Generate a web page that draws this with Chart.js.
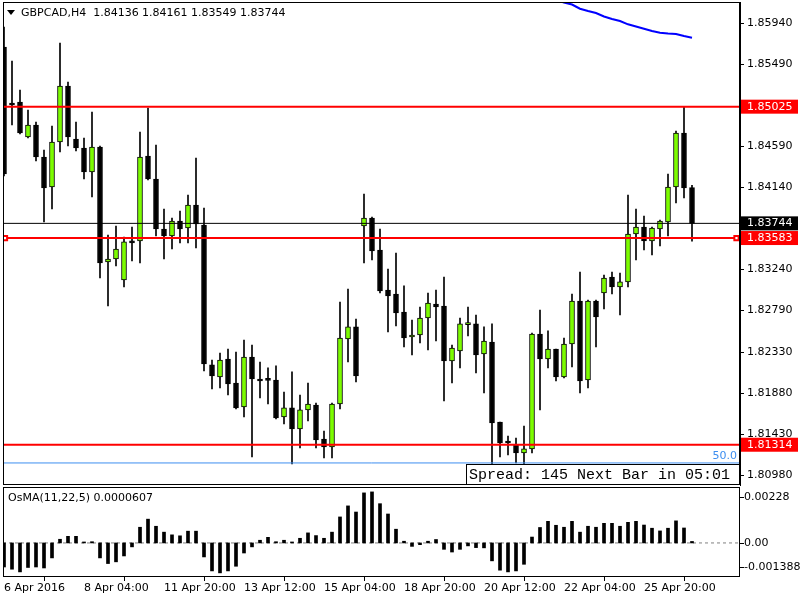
<!DOCTYPE html>
<html>
<head>
<meta charset="utf-8">
<script src="https://cdn.jsdelivr.net/npm/chart.js@4.4.0/dist/chart.umd.min.js"></script>
<style>
  html, body { margin: 0; padding: 0; background: #fff; overflow: hidden; }
  #wrap { position: relative; width: 800px; height: 600px; }
  canvas { position: absolute; left: 0; }
  #priceChart { top: 0; }
  #osmaChart { top: 485px; }
</style>
</head>
<body>
<div id="wrap">
  <canvas id="priceChart" width="800" height="487"></canvas>
  <canvas id="osmaChart" width="800" height="115"></canvas>
</div>
<script>
// GBPCAD H4 bars, left to right
var tickLabels = ['6 Apr 2016', '8 Apr 04:00', '11 Apr 20:00', '13 Apr 12:00', '15 Apr 04:00',
                  '18 Apr 20:00', '20 Apr 12:00', '22 Apr 04:00', '25 Apr 20:00'];
var tickIndex = [0, 10, 20, 30, 40, 50, 60, 70, 80];

var opens = [1.85680, 1.85065, 1.85076, 1.84692, 1.84824, 1.84473, 1.84143, 1.84637, 1.85252, 1.84670,
             1.84571, 1.84308, 1.84582, 1.83320, 1.83353, 1.83122, 1.83551, 1.83551, 1.84483, 1.84231,
             1.83682, 1.83605, 1.83770, 1.83693, 1.83946, 1.83726, 1.82190, 1.82058, 1.82255, 1.81992,
             1.81729, 1.82277, 1.82036, 1.82036, 1.82025, 1.81619, 1.81718, 1.81487, 1.81696, 1.81750,
             1.81377, 1.81289, 1.81761, 1.82475, 1.82607, 1.83715, 1.83803, 1.83452, 1.83013, 1.82969,
             1.82771, 1.82497, 1.82519, 1.82705, 1.82859, 1.82837, 1.82233, 1.82343, 1.82633, 1.82640,
             1.82310, 1.82442, 1.81564, 1.81344, 1.81311, 1.81224, 1.81268, 1.82530, 1.82255, 1.82365,
             1.82058, 1.82420, 1.82892, 1.82025, 1.82892, 1.82980, 1.83155, 1.83046, 1.83101, 1.83627,
             1.83704, 1.83551, 1.83682, 1.83759, 1.84143, 1.84736, 1.84136];
var highs = [1.85899, 1.85526, 1.85208, 1.84988, 1.84857, 1.84549, 1.84813, 1.85724, 1.85296, 1.84857,
             1.84681, 1.84966, 1.84593, 1.83616, 1.83715, 1.83594, 1.83704, 1.84747, 1.85010, 1.84604,
             1.83902, 1.83803, 1.83880, 1.84055, 1.84462, 1.83913, 1.82244, 1.82321, 1.82365, 1.82332,
             1.82464, 1.82409, 1.82222, 1.82157, 1.82179, 1.81893, 1.82113, 1.81860, 1.81992, 1.81772,
             1.81465, 1.81772, 1.82881, 1.83024, 1.82694, 1.84066, 1.83814, 1.83682, 1.83243, 1.83419,
             1.83057, 1.82683, 1.82826, 1.82980, 1.83013, 1.83155, 1.82409, 1.82705, 1.82826, 1.82738,
             1.82607, 1.82640, 1.81564, 1.81410, 1.81388, 1.81520, 1.82541, 1.82793, 1.82563, 1.82365,
             1.82486, 1.82969, 1.83210, 1.82903, 1.82903, 1.83177, 1.83210, 1.83199, 1.84055, 1.83902,
             1.83825, 1.83704, 1.83781, 1.84286, 1.84758, 1.85025, 1.84161];
var lows = [1.84264, 1.84824, 1.84725, 1.84681, 1.84429, 1.83759, 1.83902, 1.84527, 1.84593, 1.84538,
            1.84231, 1.84033, 1.83144, 1.82837, 1.83276, 1.83046, 1.83331, 1.83309, 1.84220, 1.83605,
            1.83353, 1.83463, 1.83529, 1.83529, 1.83474, 1.82124, 1.81926, 1.81937, 1.81860, 1.81707,
            1.81619, 1.81180, 1.81827, 1.81761, 1.81597, 1.81542, 1.81103, 1.81279, 1.81575, 1.81279,
            1.81169, 1.81169, 1.81707, 1.82222, 1.82003, 1.83309, 1.83342, 1.82980, 1.82552, 1.82618,
            1.82387, 1.82299, 1.82431, 1.82354, 1.82453, 1.81794, 1.81992, 1.82157, 1.82508, 1.82102,
            1.81882, 1.81103, 1.81180, 1.81202, 1.81114, 1.81048, 1.81224, 1.81696, 1.82157, 1.82014,
            1.82047, 1.82168, 1.81882, 1.81937, 1.82387, 1.82804, 1.82969, 1.82738, 1.83046, 1.83342,
            1.83452, 1.83397, 1.83496, 1.83605, 1.83968, 1.84023, 1.83549];
var closes = [1.84286, 1.85043, 1.84736, 1.84824, 1.84473, 1.84132, 1.84637, 1.85252, 1.84692, 1.84571,
              1.84308, 1.84582, 1.83309, 1.83353, 1.83463, 1.83540, 1.83529, 1.84473, 1.84231, 1.83682,
              1.83605, 1.83770, 1.83682, 1.83946, 1.83737, 1.82200, 1.82069, 1.82244, 1.81981, 1.81718,
              1.82277, 1.82036, 1.82014, 1.82020, 1.81608, 1.81718, 1.81487, 1.81696, 1.81761, 1.81366,
              1.81289, 1.81761, 1.82486, 1.82607, 1.82069, 1.83803, 1.83441, 1.83002, 1.82947, 1.82760,
              1.82486, 1.82519, 1.82705, 1.82870, 1.82826, 1.82233, 1.82376, 1.82640, 1.82640, 1.82299,
              1.82453, 1.81553, 1.81333, 1.81333, 1.81224, 1.81268, 1.82530, 1.82255, 1.82365, 1.82058,
              1.82420, 1.82892, 1.82014, 1.82892, 1.82716, 1.83144, 1.83046, 1.83101, 1.83627, 1.83704,
              1.83551, 1.83693, 1.83770, 1.84143, 1.84736, 1.84132, 1.83744];

// moving average (blue), only the visible tail, starting at bar maStart
var maStart = 66;
var maValues = [1.86284, 1.86251, 1.86223, 1.86196, 1.86168, 1.86146, 1.86100, 1.86075, 1.86053, 1.86015,
                1.85987, 1.85965, 1.85929, 1.85905, 1.85881, 1.85855, 1.85837, 1.85828, 1.85823, 1.85801,
                1.85782];

// OsMA(11,22,5) histogram
var osma = [-0.00098, -0.00107, -0.00118, -0.00100, -0.00098, -0.00102, -0.00061, 0.00015, 0.00027, 0.00027,
            0.00004, 0.00005, -0.00061, -0.00084, -0.00077, -0.00053, -0.00016, 0.00064, 0.00097, 0.00068,
            0.00044, 0.00033, 0.00029, 0.00048, 0.00048, -0.00057, -0.00114, -0.00122, -0.00114, -0.00095,
            -0.00041, -0.00016, 0.00011, 0.00023, 0.00005, 0.00011, 0.00004, 0.00019, 0.00041, 0.00030,
            0.00019, 0.00044, 0.00106, 0.00151, 0.00126, 0.00204, 0.00208, 0.00160, 0.00118, 0.00056,
            0.00007, -0.00014, -0.00007, 0.00007, 0.00014, -0.00026, -0.00037, -0.00026, -0.00012, -0.00019,
            -0.00020, -0.00073, -0.00111, -0.00118, -0.00114, -0.00087, 0.00024, 0.00063, 0.00088, 0.00072,
            0.00064, 0.00088, 0.00044, 0.00068, 0.00064, 0.00080, 0.00080, 0.00068, 0.00084, 0.00088,
            0.00073, 0.00060, 0.00049, 0.00060, 0.00090, 0.00061, 0.0000607];

var priceTicks = [1.85940, 1.85490, 1.84590, 1.84140, 1.83240, 1.82790, 1.82330, 1.81880, 1.81430, 1.80980];
var levelValues = [1.85025, 1.83583, 1.81314];   // red horizontal lines
var bidValue = 1.83744;
var blueLevel = 1.81114;
var osmaTicks = [0.00228, 0, -0.001388];
var osmaTickLabels = ['0.00228', '0.00', '-0.001388'];

var X_MIN = -0.125, X_MAX = 92;
var Y_MIN = 1.80872, Y_MAX = 1.86174;
var OSMA_MIN = -0.001388, OSMA_MAX = 0.00228;

var BULL = '#7cfc00';
var FONT = '"DejaVu Sans"';

function hline(v) {
    return [{ x: X_MIN, y: v }, { x: X_MAX, y: v }];
}

var idx = opens.map(function (_, i) { return i; });
var wickData = idx.map(function (i) { return { x: i, y: [lows[i], highs[i]] }; });
var bodyData = idx.map(function (i) { return { x: i, y: [opens[i], closes[i]] }; });
var bodyColors = idx.map(function (i) { return closes[i] >= opens[i] ? BULL : '#000000'; });
var maData = maValues.map(function (v, k) { return { x: maStart + k, y: v }; });

var priceOverlay = {
    id: 'priceOverlay',
    afterDraw: function (chart) {
        var ctx = chart.ctx, a = chart.chartArea, y = chart.scales.y;
        ctx.save();
        // window frame
        ctx.strokeStyle = '#000';
        ctx.lineWidth = 1;
        ctx.strokeRect(a.left + 0.5, a.top + 0.5, a.width - 1, a.height - 1);

        // header
        ctx.fillStyle = '#000';
        ctx.beginPath();
        ctx.moveTo(a.left + 4, a.top + 8);
        ctx.lineTo(a.left + 12, a.top + 8);
        ctx.lineTo(a.left + 8, a.top + 13);
        ctx.closePath();
        ctx.fill();
        ctx.font = '11px ' + FONT;
        ctx.textBaseline = 'middle';
        ctx.textAlign = 'left';
        ctx.fillText('GBPCAD,H4  ' + [opens[86], highs[86], lows[86], closes[86]].map(function (v) { return v.toFixed(5); }).join(' '),
                     a.left + 18, a.top + 11);

        // "50.0" level caption
        ctx.fillStyle = '#3d8ef0';
        ctx.textAlign = 'right';
        ctx.fillText('50.0', a.right - 3, y.getPixelForValue(blueLevel) - 7);

        // spread box
        var bx = a.right - 274, by = a.bottom - 21;
        ctx.fillStyle = '#fff';
        ctx.fillRect(bx, by, a.right - bx, a.bottom - by);
        ctx.strokeStyle = '#000';
        ctx.strokeRect(bx + 0.5, by + 0.5, a.right - bx - 1, a.bottom - by - 1);
        ctx.fillStyle = '#000';
        ctx.textAlign = 'left';
        ctx.font = '15px "Liberation Mono"';
        ctx.fillText('Spread: 145 Next Bar in 05:01', bx + 3, by + 11);

        // price labels for the lines
        ctx.font = '11px ' + FONT;
        function tag(v, color) {
            var py = y.getPixelForValue(v);
            ctx.fillStyle = color;
            ctx.fillRect(a.right + 1, py - 7, 57, 14);
            ctx.fillStyle = '#fff';
            ctx.fillText(v.toFixed(5), a.right + 7, py);
        }
        levelValues.forEach(function (v) { tag(v, '#ff0000'); });
        tag(bidValue, '#000000');
        ctx.restore();
    }
};

new Chart(document.getElementById('priceChart'), {
    type: 'bar',
    data: {
        datasets: [
            { type: 'bar', data: wickData, backgroundColor: '#000', barThickness: 1, grouped: false, order: 6 },
            { type: 'bar', data: bodyData, backgroundColor: bodyColors, borderColor: '#000', borderWidth: 1,
              borderSkipped: false, barThickness: 5, minBarLength: 2, grouped: false, order: 5 },
            { type: 'line', data: maData, borderColor: '#0000ff', borderWidth: 2, pointRadius: 0, order: 4 },
            { type: 'line', data: hline(blueLevel), borderColor: '#3d8ef0', borderWidth: 1, pointRadius: 0, order: 3 },
            { type: 'line', data: hline(bidValue), borderColor: '#000', borderWidth: 1, pointRadius: 0, order: 3 },
            { type: 'line', data: hline(levelValues[0]), borderColor: '#ff0000', borderWidth: 2, pointRadius: 0, order: 2 },
            { type: 'line', data: hline(levelValues[1]), borderColor: '#ff0000', borderWidth: 2, pointRadius: 0, order: 2 },
            { type: 'line', data: hline(levelValues[2]), borderColor: '#ff0000', borderWidth: 2, pointRadius: 0, order: 2 },
            // anchor squares of the selected line
            { type: 'line', data: [{ x: 0.125, y: levelValues[1] }, { x: 91.56, y: levelValues[1] }], showLine: false,
              pointStyle: 'rect', pointRadius: 3, pointBorderColor: '#ff0000', pointBackgroundColor: '#fff',
              pointBorderWidth: 2, order: 1 }
        ]
    },
    options: {
        responsive: false,
        animation: false,
        events: [],
        devicePixelRatio: 1,
        layout: { autoPadding: false, padding: { left: 3, top: 2, right: 0, bottom: 2 } },
        plugins: { legend: { display: false }, tooltip: { enabled: false } },
        scales: {
            x: { type: 'linear', min: X_MIN, max: X_MAX, offset: false, display: false },
            y: {
                type: 'linear', position: 'right', min: Y_MIN, max: Y_MAX, beginAtZero: false,
                afterBuildTicks: function (s) { s.ticks = priceTicks.map(function (v) { return { value: v }; }); },
                afterFit: function (s) { s.width = 60; s.paddingTop = 0; s.paddingBottom = 0; },
                grid: { drawOnChartArea: false, tickLength: 4, color: '#000' },
                border: { display: true, color: '#000' },
                ticks: { color: '#000', padding: 3, autoSkip: false, font: { family: 'DejaVu Sans', size: 11 },
                         callback: function (v) { return v.toFixed(5); } }
            }
        }
    },
    plugins: [priceOverlay]
});

var osmaOverlay = {
    id: 'osmaOverlay',
    afterDraw: function (chart) {
        var ctx = chart.ctx, a = chart.chartArea, y = chart.scales.y;
        ctx.save();
        ctx.strokeStyle = '#000';
        ctx.lineWidth = 1;
        ctx.strokeRect(a.left + 0.5, a.top + 0.5, a.width - 1, a.height - 1);
        ctx.fillStyle = '#000';
        ctx.font = '11px ' + FONT;
        ctx.textBaseline = 'middle';
        ctx.textAlign = 'left';
        ctx.fillText('OsMA(11,22,5) ' + osma[osma.length - 1].toFixed(7), a.left + 5, a.top + 11);
        // scale captions: max and min sit just inside the window edges
        var shifts = [10, 0, -10];
        osmaTicks.forEach(function (v, k) {
            var py = y.getPixelForValue(v) + shifts[k];
            ctx.fillRect(a.right, Math.round(py), 4, 1);
            ctx.fillText(osmaTickLabels[k], a.right + 4, py);
        });
        ctx.restore();
    }
};

new Chart(document.getElementById('osmaChart'), {
    type: 'bar',
    data: {
        datasets: [
            { type: 'line', data: hline(0), borderColor: '#808080', borderDash: [3, 3], borderWidth: 1, pointRadius: 0, order: 2 },
            { type: 'bar', data: osma.map(function (v, i) { return { x: i, y: v }; }), backgroundColor: '#000',
              barThickness: 3, grouped: false, order: 1 }
        ]
    },
    options: {
        responsive: false,
        animation: false,
        events: [],
        devicePixelRatio: 1,
        layout: { autoPadding: false, padding: { left: 3, top: 2, right: 0, bottom: 0 } },
        plugins: { legend: { display: false }, tooltip: { enabled: false } },
        scales: {
            x: {
                type: 'linear', min: X_MIN, max: X_MAX, offset: false, position: 'bottom',
                afterBuildTicks: function (s) { s.ticks = tickIndex.map(function (v) { return { value: v }; }); },
                afterFit: function (s) { s.height = 23; s.paddingLeft = 0; s.paddingRight = 0; },
                grid: { drawOnChartArea: false, tickLength: 4, color: '#000' },
                border: { display: false },
                ticks: { align: 'start', maxRotation: 0, autoSkip: false, padding: 1, color: '#000',
                         font: { family: 'DejaVu Sans', size: 11 },
                         callback: function (v, i) { return tickLabels[i]; } }
            },
            y: {
                type: 'linear', position: 'right', min: OSMA_MIN, max: OSMA_MAX, beginAtZero: false,
                afterFit: function (s) { s.width = 60; s.paddingTop = 0; s.paddingBottom = 0; },
                grid: { display: false },
                border: { display: false },
                ticks: { display: false }
            }
        }
    },
    plugins: [osmaOverlay]
});
</script>
</body>
</html>
